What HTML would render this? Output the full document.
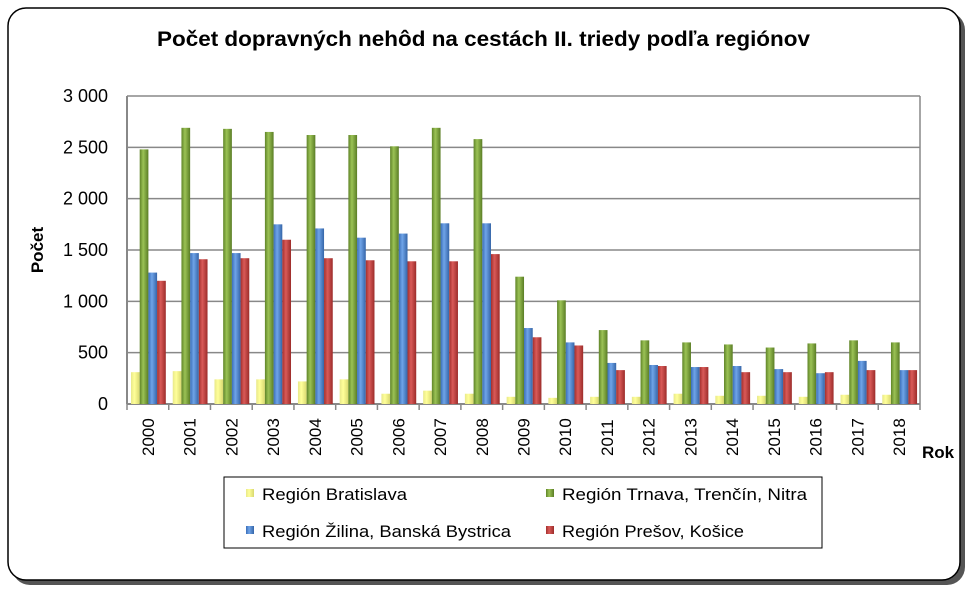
<!DOCTYPE html>
<html><head><meta charset="utf-8"><style>
body{margin:0;background:#fff;width:975px;height:595px;overflow:hidden;font-family:"Liberation Sans",sans-serif}
</style></head><body>
<svg width="975" height="595" xmlns="http://www.w3.org/2000/svg" font-family="Liberation Sans, sans-serif">
<defs>
<linearGradient id="gy" x1="0" x2="1"><stop offset="0" stop-color="#e8e88a"/><stop offset=".4" stop-color="#ffff99"/><stop offset="1" stop-color="#d8d870"/></linearGradient>
<linearGradient id="gg" x1="0" x2="1"><stop offset="0" stop-color="#5f8428"/><stop offset=".4" stop-color="#9bc255"/><stop offset="1" stop-color="#5a7d25"/></linearGradient>
<linearGradient id="gb" x1="0" x2="1"><stop offset="0" stop-color="#3a6eb8"/><stop offset=".4" stop-color="#6fa4e8"/><stop offset="1" stop-color="#3565a8"/></linearGradient>
<linearGradient id="gr" x1="0" x2="1"><stop offset="0" stop-color="#a32f2d"/><stop offset=".4" stop-color="#d95a58"/><stop offset="1" stop-color="#9c2c2a"/></linearGradient>
</defs>
<rect x="12" y="12" width="953" height="573" rx="18" fill="#555"/>
<rect x="8" y="8" width="952" height="572" rx="18" fill="#fff" stroke="#000" stroke-width="1.5"/>
<text x="157" y="46" font-size="21" font-weight="bold" textLength="653" lengthAdjust="spacingAndGlyphs">Počet dopravných nehôd na cestách II. triedy podľa regiónov</text>
<g id="plot"></g>
<text x="43" y="250" font-size="17" font-weight="bold" transform="rotate(-90 43 250)" text-anchor="middle">Počet</text>
<text x="938" y="458" font-size="17" font-weight="bold" text-anchor="middle">Rok</text>
<rect x="224" y="477" width="598" height="71" fill="#fff" stroke="#000" stroke-width="1"/>
<rect x="246" y="489" width="8" height="8" fill="url(#gy)"/><text x="262" y="500" font-size="17" textLength="145" lengthAdjust="spacingAndGlyphs">Región Bratislava</text>
<rect x="546" y="489" width="8" height="8" fill="url(#gg)"/><text x="562" y="500" font-size="17" textLength="245" lengthAdjust="spacingAndGlyphs">Región Trnava, Trenčín, Nitra</text>
<rect x="246" y="526" width="8" height="8" fill="url(#gb)"/><text x="262" y="537" font-size="17" textLength="249" lengthAdjust="spacingAndGlyphs">Región Žilina, Banská Bystrica</text>
<rect x="546" y="526" width="8" height="8" fill="url(#gr)"/><text x="562" y="537" font-size="17" textLength="182" lengthAdjust="spacingAndGlyphs">Región Prešov, Košice</text>
</svg>
<script>
const d=[[310,2480,1280,1200],[320,2690,1470,1410],[240,2680,1470,1420],[240,2650,1750,1600],[220,2620,1710,1420],[240,2620,1620,1400],[100,2510,1660,1390],[130,2690,1760,1390],[100,2580,1760,1460],[70,1240,740,650],[60,1010,600,570],[70,720,400,330],[70,620,380,370],[100,600,360,360],[80,580,370,310],[80,550,340,310],[70,590,300,310],[90,620,420,330],[90,600,330,330]];
const L=127,R=920,T=96,B=404,g=(R-L)/19;
let s='';
for(let i=0;i<=6;i++){const y=B-i*(B-T)/6;s+=`<line x1="${L}" x2="${R}" y1="${y}" y2="${y}" stroke="#888" stroke-width="1.5"/>`;
const lab=i==0?'0':(i*500>=1000?Math.floor(i*500/1000)+' '+String(i*500%1000).padStart(3,'0'):String(i*500));
s+=`<text x="${L-19}" y="${y+6}" text-anchor="end" font-size="18">${lab}</text>`;}
s+=`<line x1="${R}" x2="${R}" y1="${T}" y2="${B}" stroke="#888" stroke-width="1.5"/>`;
s+=`<line x1="${L}" x2="${L}" y1="${T}" y2="${B}" stroke="#888" stroke-width="2"/>`;
s+=`<line x1="${L}" x2="${R}" y1="${B}" y2="${B}" stroke="#888" stroke-width="2"/>`;
const f=['gy','gg','gb','gr'];
d.forEach((r,i)=>{const x0=L+i*g;r.forEach((v,j)=>{const h=v*(B-T)/3000;s+=`<rect x="${x0+4+j*8.7}" y="${B-h}" width="8.7" height="${h}" fill="url(#${f[j]})"/>`});
s+=`<text transform="translate(${x0+g/2+6},${B+52}) rotate(-90)" font-size="17">${2000+i}</text>`;});
for(let i=0;i<=19;i++){const x=L+i*g;s+=`<line x1="${x}" x2="${x}" y1="${B}" y2="${B+6}" stroke="#888" stroke-width="1.5"/>`}
document.getElementById('plot').innerHTML=s;
</script>
</body></html>
